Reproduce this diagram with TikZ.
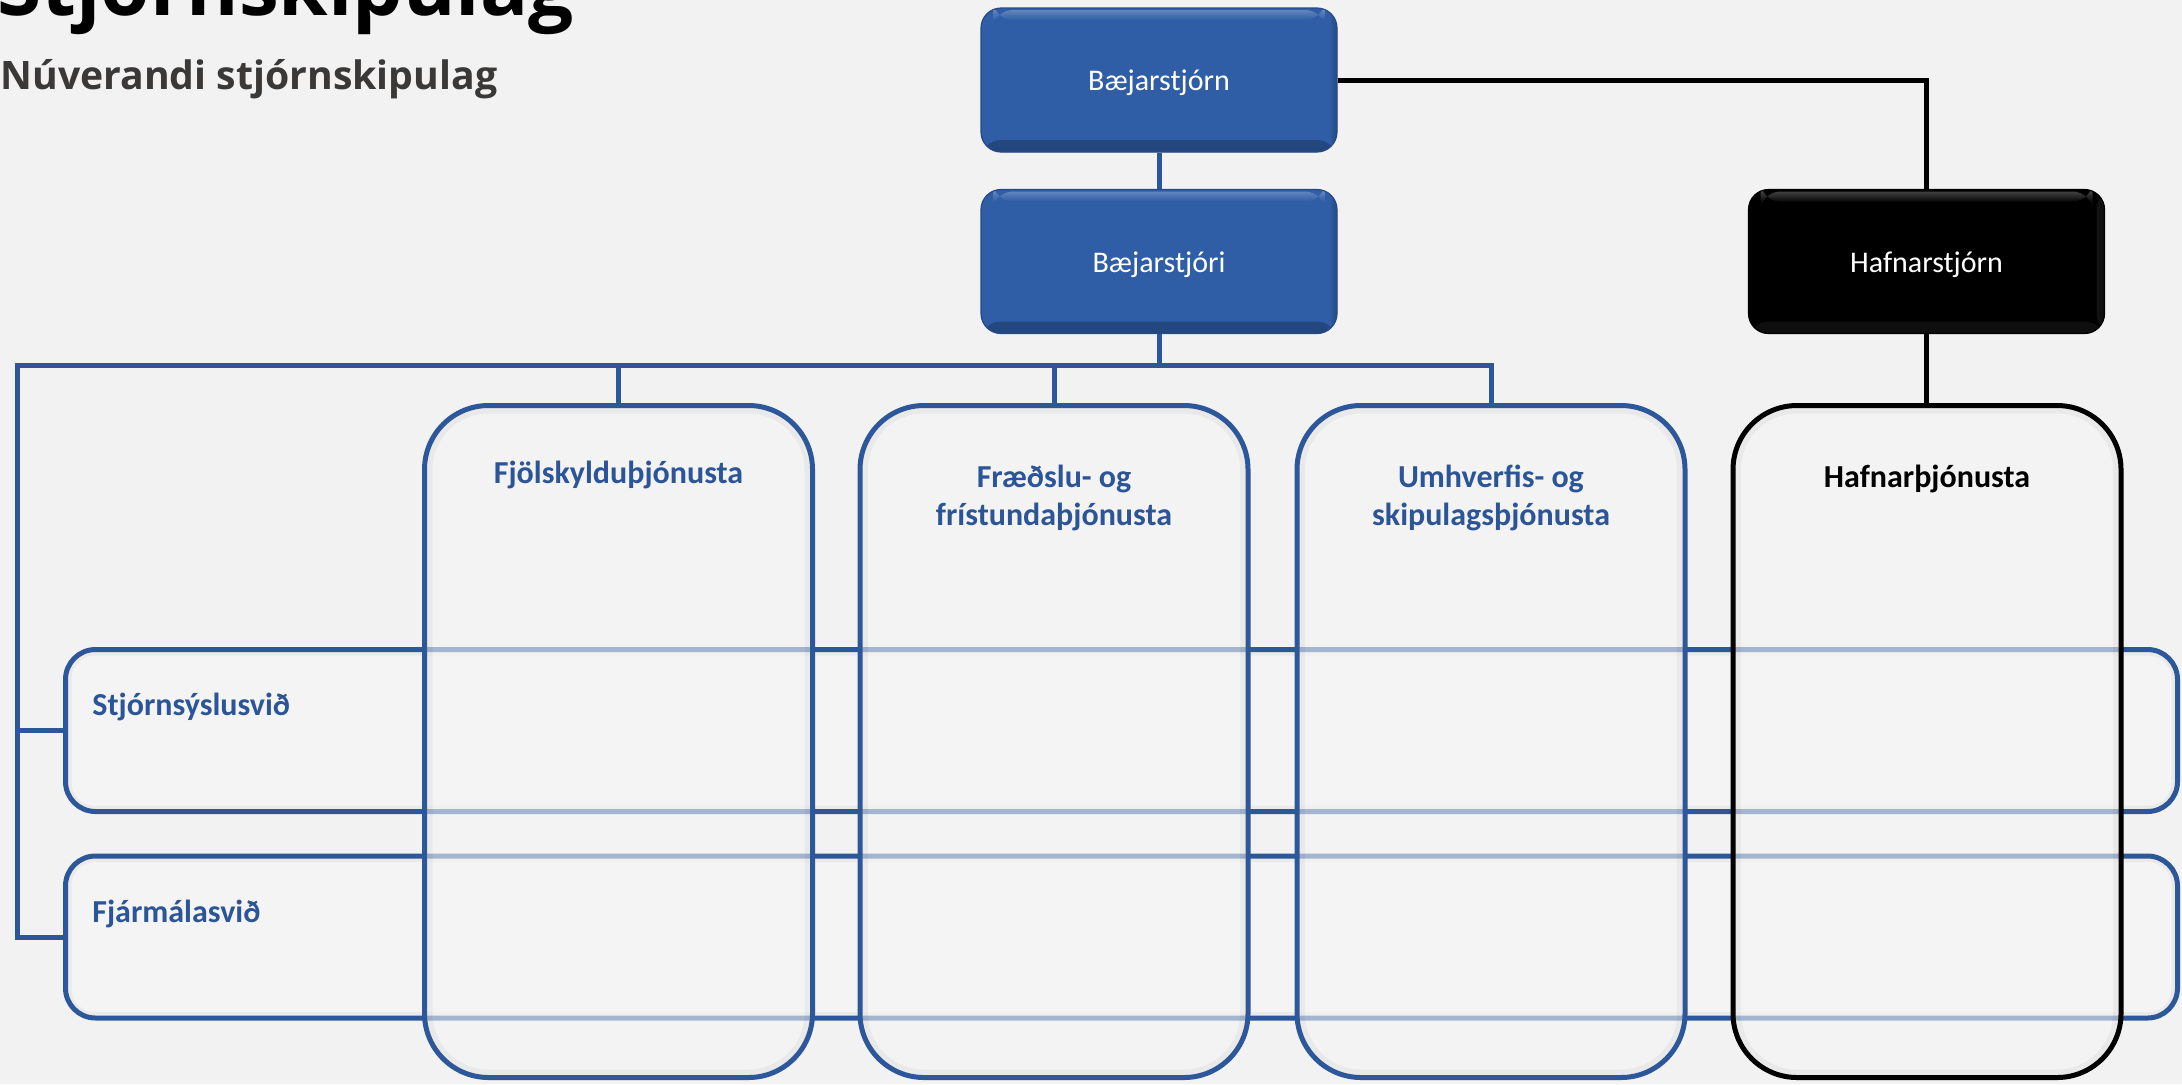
\documentclass[tikz,border=0pt]{standalone}
\usepackage{fontspec}
\setmainfont{Carlito}
\newfontfamily\titlefont{Open Sans}
\definecolor{bg}{HTML}{F2F2F2}
\definecolor{boxblue}{HTML}{2F5DA6}
\definecolor{lineblue}{HTML}{2C579A}
\definecolor{txtblue}{HTML}{2C5597}
\definecolor{panel}{HTML}{F4F4F4}
\definecolor{subgray}{HTML}{3B3838}
\tikzset{
 topbox/.style={rectangle, rounded corners=10pt, minimum width=178pt, minimum height=72pt, text=white, font=\fontsize{15}{18}\selectfont, text height=10.5pt, text depth=0pt, inner sep=0pt},
 bevel/.style={path picture={
   \shade[top color=#1, bottom color=#1!65!black, opacity=0.7] ([yshift=6pt]path picture bounding box.south west) rectangle (path picture bounding box.south east);
   \shade[left color=#1, right color=#1!65!black, opacity=0.6] ([xshift=-4pt]path picture bounding box.north east) rectangle (path picture bounding box.south east);
   \shade[top color=white, bottom color=#1, opacity=0.25] ([xshift=6pt,yshift=-1pt]path picture bounding box.north west) rectangle ([xshift=-6pt,yshift=-6pt]path picture bounding box.north east);
 }},
 bluebox/.style={topbox, fill=boxblue, draw=boxblue!80!black, line width=0.6pt, bevel=boxblue},
 blackbox/.style={topbox, fill=black, draw=black, line width=0.6pt, bevel=black!88!white},
 colbox/.style={rectangle, rounded corners=32pt, minimum width=194pt, minimum height=336pt, line width=2.5pt, fill=panel, fill opacity=0.6, inner sep=0pt,
   path picture={\draw[black, opacity=0.04, line width=4pt, rounded corners=30pt] ([shift={(2pt,-2pt)}]path picture bounding box.north west) rectangle ([shift={(-2pt,2pt)}]path picture bounding box.south east);}},
 rowbox/.style={rectangle, rounded corners=15pt, minimum width=1056pt, minimum height=81pt, line width=2.5pt, draw=lineblue, fill=panel, inner sep=0pt,
   path picture={\draw[black, opacity=0.04, line width=3pt, rounded corners=13pt] ([shift={(1.5pt,-1.5pt)}]path picture bounding box.north west) rectangle ([shift={(-1.5pt,1.5pt)}]path picture bounding box.south east);}},
 coltext/.style={font=\bfseries\fontsize{16}{19}\selectfont, align=center, anchor=base, inner sep=0pt},
 bl/.style={draw=lineblue, line width=2.5pt},
 bk/.style={draw=black, line width=2.5pt},
}
\begin{document}
\begin{tikzpicture}[x=0.5pt,y=-0.5pt]
\fill[bg] (0,0) rectangle (2182,1084);
\useasboundingbox (0,0) rectangle (2182,1084);

% titles
\node[anchor=base west, inner sep=0pt, font=\titlefont\bfseries\fontsize{40}{44}\selectfont] (title) at (-3,15) {Stjórnskipulag};
\node[anchor=base west, inner sep=0pt, text=subgray, font=\titlefont\bfseries\fontsize{19.6}{24}\selectfont] (sub) at (0,89) {Núverandi stjórnskipulag};

% top boxes
\node[bluebox] (bstjorn) at (1159,80) {Bæjarstjórn};
\node[bluebox] (bstjori) at (1159,261.5) {Bæjarstjóri};
\node[blackbox] (hstjorn) at (1926.5,261.5) {Hafnarstjórn};

% rows
\node[rowbox] (row1) at (1121.5,730.5) {};
\node[rowbox] (row2) at (1121.5,937) {};

% columns
\node[colbox, draw=lineblue] (col1) at (618.5,741.5) {};
\node[colbox, draw=lineblue] (col2) at (1054,741.5) {};
\node[colbox, draw=lineblue] (col3) at (1491,741.5) {};
\node[colbox, draw=black] (col4) at (1927,741.5) {};

% labels
\node[coltext, text=txtblue] (t1) at (618.5,483) {Fjölskylduþjónusta};
\node[coltext, text=txtblue] (t2) at (1054,525) {Fræðslu- og\\frístundaþjónusta};
\node[coltext, text=txtblue] (t3) at (1491,525) {Umhverfis- og\\skipulagsþjónusta};
\node[coltext, text=black] (t4) at (1927,487) {Hafnarþjónusta};
\node[coltext, anchor=base west, text=txtblue] (r1) at (92,715) {Stjórnsýslusvið};
\node[coltext, anchor=base west, text=txtblue] (r2) at (92,922) {Fjármálasvið};

% connectors
\coordinate (bus) at (1159,365.5);
\coordinate (lft) at (17,365.5);
\draw[bl] (bstjorn.south) -- (bstjori.north);
\draw[bl] (bstjori.south) -- (bus);
\draw[bl] (bus) -| (col1.north);
\draw[bl] (bus) -| (col2.north);
\draw[bl] (bus) -| (col3.north);
\draw[bl] (bus) -- (lft) |- (row1.west);
\draw[bl] (lft) |- (row2.west);
\draw[bk] (bstjorn.east) -| (hstjorn.north);
\draw[bk] (hstjorn.south) -- (hstjorn.south |- col4.north);
\end{tikzpicture}
\end{document}
